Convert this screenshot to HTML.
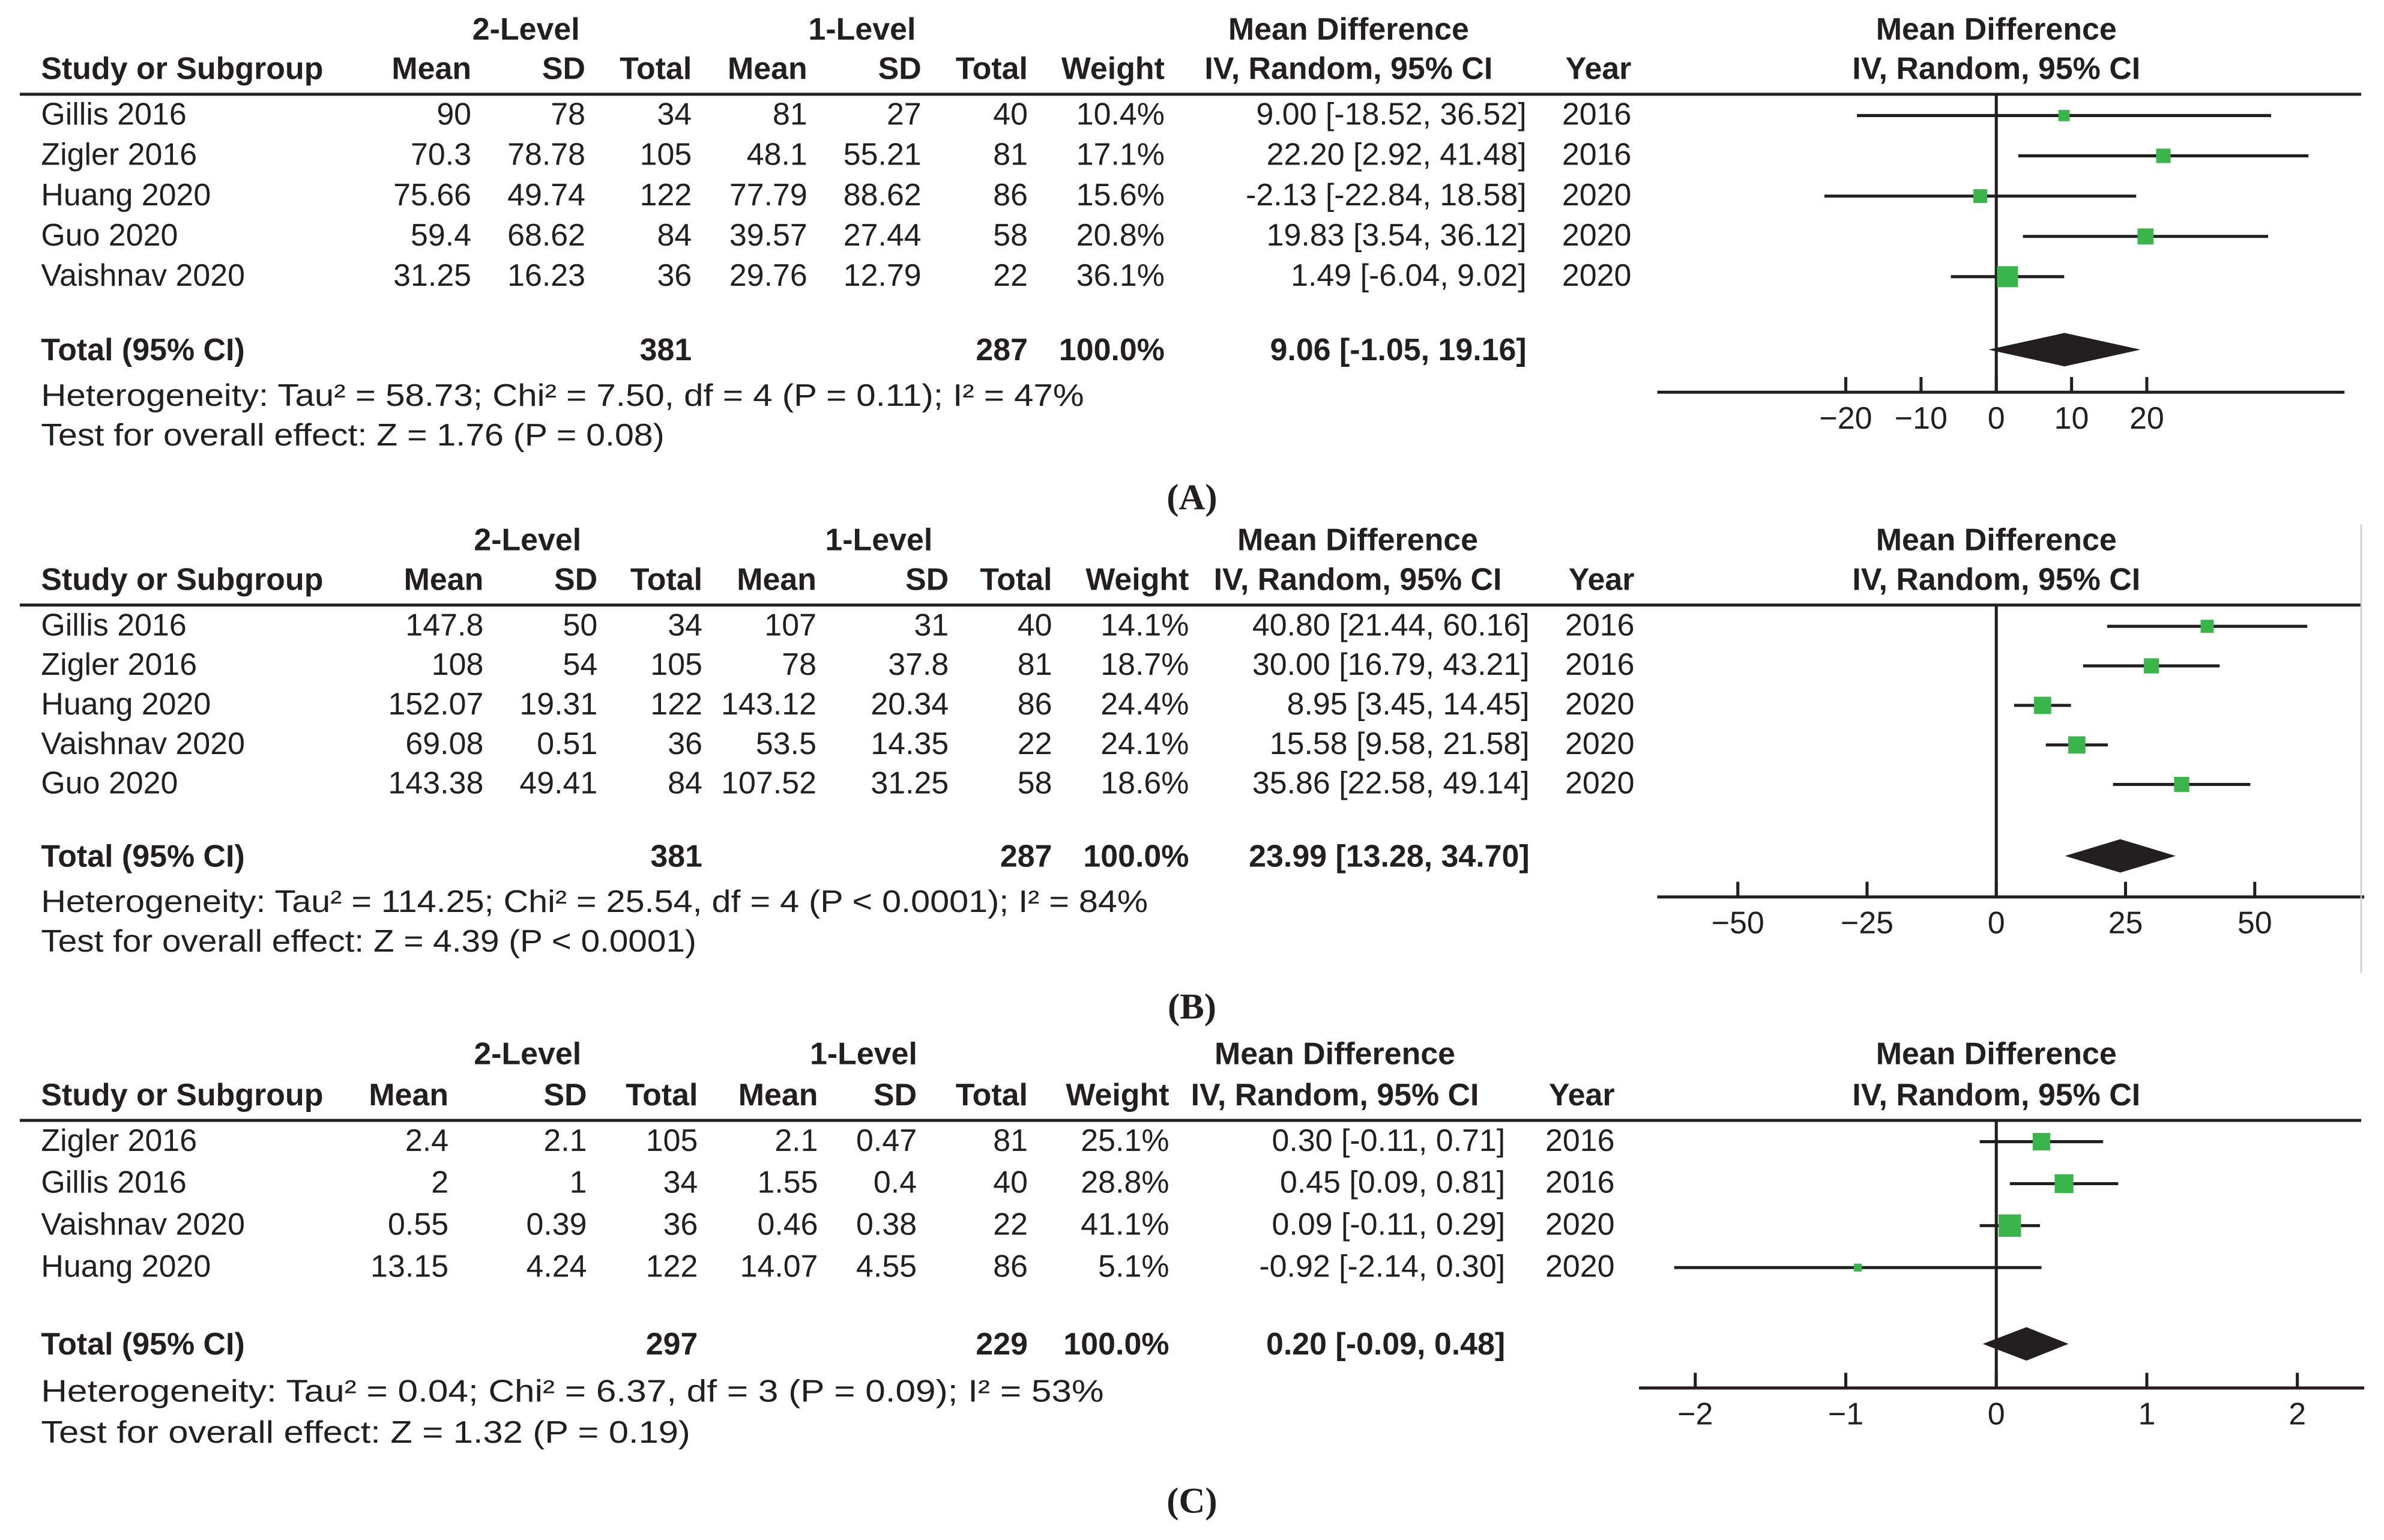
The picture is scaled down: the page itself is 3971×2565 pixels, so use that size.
<!DOCTYPE html>
<html><head><meta charset="utf-8"><style>
html,body{margin:0;padding:0;background:#fff;}
svg{display:block;}
text{font-family:"Liberation Sans",sans-serif;fill:#231f20;}
</style></head><body>
<svg id="fig" width="3971" height="2565" viewBox="0 0 1568 1013" preserveAspectRatio="none" xmlns="http://www.w3.org/2000/svg"></svg>
<script>
// Panel A data
const aStudies=["Gillis 2016","Zigler 2016","Huang 2020","Guo 2020","Vaishnav 2020"];
const aMean2=["90","70.3","75.66","59.4","31.25"];
const aSd2=["78","78.78","49.74","68.62","16.23"];
const aN2=["34","105","122","84","36"];
const aMean1=["81","48.1","77.79","39.57","29.76"];
const aSd1=["27","55.21","88.62","27.44","12.79"];
const aN1=["40","81","86","58","22"];
const aWeight=[10.4,17.1,15.6,20.8,36.1];
const aMD=[9.00,22.20,-2.13,19.83,1.49];
const aLo=[-18.52,2.92,-22.84,3.54,-6.04];
const aHi=[36.52,41.48,18.58,36.12,9.02];
const aYear=["2016","2016","2020","2020","2020"];
const aTotal=[9.06,-1.05,19.16];
const aTicks=[-20,-10,0,10,20];
// Panel B data
const bStudies=["Gillis 2016","Zigler 2016","Huang 2020","Vaishnav 2020","Guo 2020"];
const bMean2=["147.8","108","152.07","69.08","143.38"];
const bSd2=["50","54","19.31","0.51","49.41"];
const bN2=["34","105","122","36","84"];
const bMean1=["107","78","143.12","53.5","107.52"];
const bSd1=["31","37.8","20.34","14.35","31.25"];
const bN1=["40","81","86","22","58"];
const bWeight=[14.1,18.7,24.4,24.1,18.6];
const bMD=[40.80,30.00,8.95,15.58,35.86];
const bLo=[21.44,16.79,3.45,9.58,22.58];
const bHi=[60.16,43.21,14.45,21.58,49.14];
const bYear=["2016","2016","2020","2020","2020"];
const bTotal=[23.99,13.28,34.70];
const bTicks=[-50,-25,0,25,50];
// Panel C data
const cStudies=["Zigler 2016","Gillis 2016","Vaishnav 2020","Huang 2020"];
const cMean2=["2.4","2","0.55","13.15"];
const cSd2=["2.1","1","0.39","4.24"];
const cN2=["105","34","36","122"];
const cMean1=["2.1","1.55","0.46","14.07"];
const cSd1=["0.47","0.4","0.38","4.55"];
const cN1=["81","40","22","86"];
const cWeight=[25.1,28.8,41.1,5.1];
const cMD=[0.30,0.45,0.09,-0.92];
const cLo=[-0.11,0.09,-0.11,-2.14];
const cHi=[0.71,0.81,0.29,0.30];
const cYear=["2016","2016","2020","2020"];
const cTotal=[0.20,-0.09,0.48];
const cTicks=[-2,-1,0,1,2];

const NS="http://www.w3.org/2000/svg";
const svg=document.getElementById('fig');
const FS=20.5;
function mk(tag,attrs,parent){const e=document.createElementNS(NS,tag);for(const k in attrs)e.setAttribute(k,attrs[k]);(parent||svg).appendChild(e);return e;}
function txt(g,x,y,s,anchor,bold,name,size,len){
  const t=mk('text',{x:x,y:y,'font-size':size||FS,'text-anchor':anchor||'start','font-weight':bold?'bold':'normal'},g);
  if(len){t.setAttribute('textLength',len);t.setAttribute('lengthAdjust','spacingAndGlyphs');}
  t.textContent=s;
  
  
  return t;
}
const panels=[
 {id:'a',studies:aStudies,cols:[aMean2,aSd2,aN2,aMean1,aSd1,aN1],weight:aWeight,md:aMD,lo:aLo,hi:aHi,year:aYear,total:aTotal,ticks:aTicks,
  n2:"381",n1:"287",het:"Heterogeneity: Tau² = 58.73; Chi² = 7.50, df = 4 (P = 0.11); I² = 47%",hetLen:686,test:"Test for overall effect: Z = 1.76 (P = 0.08)",testLen:410,
  titleY:26,headY:52,lineY:62,rowY0:82,rowDy:26.5,totY:237,hetY:267,testY:293,labY:335,lab:"(A)",
  colX:[310,385,455,531,606,676],wX:766,ciX:1004,yrX:1073,mdC:887,lev2:346,lev1:567,
  zero:1313,ppu:4.95,axisY:258,ax0:1090,ax1:1542,diamH:11},
 {id:'b',studies:bStudies,cols:[bMean2,bSd2,bN2,bMean1,bSd1,bN1],weight:bWeight,md:bMD,lo:bLo,hi:bHi,year:bYear,total:bTotal,ticks:bTicks,
  n2:"381",n1:"287",het:"Heterogeneity: Tau² = 114.25; Chi² = 25.54, df = 4 (P < 0.0001); I² = 84%",hetLen:728,test:"Test for overall effect: Z = 4.39 (P < 0.0001)",testLen:431,
  titleY:362,headY:388,lineY:398,rowY0:418,rowDy:26,totY:570,hetY:600,testY:626,labY:670,lab:"(B)",
  colX:[318,393,462,537,624,692],wX:782,ciX:1006,yrX:1075,mdC:893,lev2:347,lev1:578,
  zero:1313,ppu:3.4,axisY:590,ax0:1090,ax1:1555,diamH:11},
 {id:'c',studies:cStudies,cols:[cMean2,cSd2,cN2,cMean1,cSd1,cN1],weight:cWeight,md:cMD,lo:cLo,hi:cHi,year:cYear,total:cTotal,ticks:cTicks,
  n2:"297",n1:"229",het:"Heterogeneity: Tau² = 0.04; Chi² = 6.37, df = 3 (P = 0.09); I² = 53%",hetLen:699,test:"Test for overall effect: Z = 1.32 (P = 0.19)",testLen:427,
  titleY:700,headY:727,lineY:737,rowY0:757,rowDy:27.6,totY:891,hetY:922,testY:949,labY:995,lab:"(C)",
  colX:[295,386,459,538,603,676],wX:769,ciX:990,yrX:1062,mdC:878,lev2:347,lev1:568,
  zero:1313,ppu:99,axisY:913,ax0:1078,ax1:1555,diamH:11}
];
function f2(v){return v.toFixed(2);}
panels.forEach(p=>{
  const g=mk('g',{});
  
  
  const X=v=>p.zero+v*p.ppu;
  txt(g,p.lev2,p.titleY,"2-Level",'middle',true,'group-2-level-title');
  txt(g,p.lev1,p.titleY,"1-Level",'middle',true,'group-1-level-title');
  txt(g,p.mdC,p.titleY,"Mean Difference",'middle',true,'mean-difference-title');
  txt(g,1313,p.titleY,"Mean Difference",'middle',true,'plot-title');
  txt(g,27,p.headY,"Study or Subgroup",'start',true,'study-header');
  const hd=["Mean","SD","Total","Mean","SD","Total"];
  hd.forEach((h,i)=>txt(g,p.colX[i],p.headY,h,'end',true,'col-header-'+h.toLowerCase()));
  txt(g,p.wX,p.headY,"Weight",'end',true,'weight-header');
  txt(g,p.mdC,p.headY,"IV, Random, 95% CI",'middle',true,'ci-header');
  txt(g,p.yrX,p.headY,"Year",'end',true,'year-header');
  txt(g,1313,p.headY,"IV, Random, 95% CI",'middle',true,'plot-subtitle');
  const hl=mk('line',{x1:13,x2:1553,y1:p.lineY,y2:p.lineY,stroke:'#231f20','stroke-width':2},g);
  
  
  const zl=mk('line',{x1:X(0),x2:X(0),y1:p.lineY,y2:p.axisY,stroke:'#231f20','stroke-width':2},g);
  
  
  p.studies.forEach((s,i)=>{
    const y=p.rowY0+i*p.rowDy;
    txt(g,27,y,s,'start',false,'study-name');
    p.cols.forEach((c,j)=>txt(g,p.colX[j],y,c[i],'end',false,'study-value'));
    txt(g,p.wX,y,p.weight[i].toFixed(1)+"%",'end',false,'study-weight');
    txt(g,p.ciX,y,f2(p.md[i])+" ["+f2(p.lo[i])+", "+f2(p.hi[i])+"]",'end',false,'study-ci');
    txt(g,p.yrX,y,p.year[i],'end',false,'study-year');
    const cy=y-6;
    const ln=mk('line',{x1:X(p.lo[i]),x2:X(p.hi[i]),y1:cy,y2:cy,stroke:'#231f20','stroke-width':2},g);
    
    
    const sz=2.3*Math.sqrt(p.weight[i]);
    const r=mk('rect',{x:X(p.md[i])-sz/2,y:cy-sz/2,width:sz,height:sz,fill:'#39b54a'},g);
    
    
  });
  txt(g,27,p.totY,"Total (95% CI)",'start',true,'total-label');
  txt(g,p.colX[2],p.totY,p.n2,'end',true,'total-n-2-level');
  txt(g,p.colX[5],p.totY,p.n1,'end',true,'total-n-1-level');
  txt(g,p.wX,p.totY,"100.0%",'end',true,'total-weight');
  txt(g,p.ciX,p.totY,f2(p.total[0])+" ["+f2(p.total[1])+", "+f2(p.total[2])+"]",'end',true,'total-ci');
  const dy=p.totY-7;
  const dm=mk('polygon',{points:[X(p.total[1])+','+dy,X(p.total[0])+','+(dy-p.diamH),X(p.total[2])+','+dy,X(p.total[0])+','+(dy+p.diamH)].join(' '),fill:'#231f20'},g);
  
  
  txt(g,27,p.hetY,p.het,'start',false,'heterogeneity-text',FS,p.hetLen);
  txt(g,27,p.testY,p.test,'start',false,'overall-effect-text',FS,p.testLen);
  const ax=mk('line',{x1:p.ax0,x2:p.ax1,y1:p.axisY,y2:p.axisY,stroke:'#231f20','stroke-width':2},g);
  
  
  p.ticks.forEach(t=>{
    const tk=mk('line',{x1:X(t),x2:X(t),y1:p.axisY-10,y2:p.axisY,stroke:'#231f20','stroke-width':2},g);
    
    
    txt(g,X(t),p.axisY+24,(t<0?"\u2212":"")+Math.abs(t),'middle',false,'x-tick-label');
  });
  const lb=txt(g,784,p.labY,p.lab,'middle',true,'panel-label',24);
  lb.setAttribute('style','font-family:"Liberation Serif",serif');
});
const vl=mk('line',{x1:1553,x2:1553,y1:345,y2:640,stroke:'#cccccc','stroke-width':1});


</script>
</body></html>
